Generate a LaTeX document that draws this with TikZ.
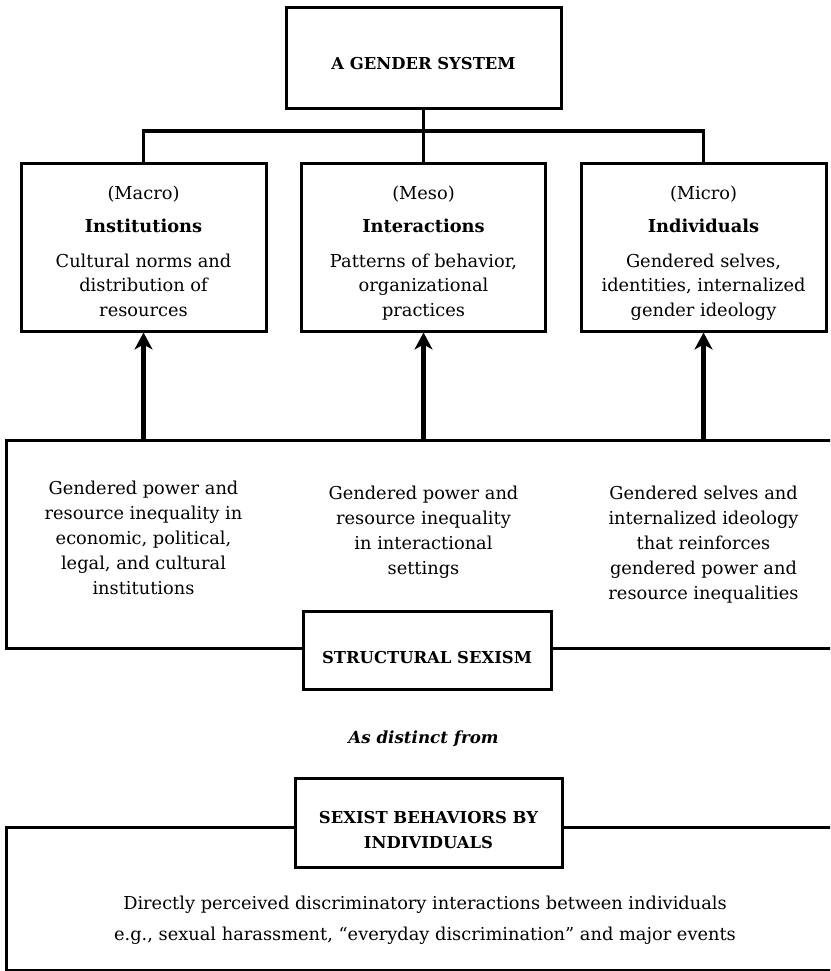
\documentclass[tikz,border=0pt]{standalone}
\usepackage{fontspec}
\setmainfont{DejaVu Serif}
\usetikzlibrary{arrows.meta}
\begin{document}
\begin{tikzpicture}[x=1pt,y=-1pt,
  every node/.style={font=\fontsize{17.8}{24.5}\selectfont},
  box/.style={draw, line width=3pt, fill=white, inner sep=0pt},
  conn/.style={line width=3pt},
  uparrow/.style={line width=5.5pt, -{Stealth[length=17pt,width=18pt,inset=5pt]}},
  txt/.style={align=center, inner sep=0pt},
  coltxt/.style={align=center, inner sep=0pt, anchor=north, font=\fontsize{17.8}{25}\selectfont},
  hd/.style={align=center, inner sep=0pt, font=\fontsize{16.4}{25}\selectfont\bfseries}]
\useasboundingbox (0,0) rectangle (830,971);
\clip (0,0) rectangle (830,971);

% top
\node[box, minimum width=275pt, minimum height=101pt] (gs) at (423.5,58) {};
\node[hd, anchor=base] (gsT) at (423.5,69.5) {A GENDER SYSTEM};

% level boxes
\node[box, minimum width=245pt, minimum height=168pt] (macro) at (143.5,247) {};
\node[box, minimum width=244pt, minimum height=168pt] (meso) at (423.5,247) {};
\node[box, minimum width=245pt, minimum height=168pt] (micro) at (703.5,247) {};

\node[txt, anchor=north] (macroT) at (143.5,185.5) {(Macro)\\[8.5pt]\textbf{Institutions}\\[10.5pt]Cultural norms and\\distribution of\\resources};
\node[txt, anchor=north] (mesoT) at (423.5,185.5) {(Meso)\\[8.5pt]\textbf{Interactions}\\[10.5pt]Patterns of behavior,\\organizational\\practices};
\node[txt, anchor=north] (microT) at (703.5,185.5) {(Micro)\\[8.5pt]\textbf{Individuals}\\[10.5pt]Gendered selves,\\identities, internalized\\gender ideology};

% connectors from top
\coordinate (bar) at (423.5,131);
\draw[conn] (gs.south) -- (bar);
\draw[conn] (macro.north) |- (bar) -| (micro.north);
\draw[conn] (bar) -- (meso.north);

% structural box
\node[box, minimum width=854pt, minimum height=208pt] (struct) at (433,544) {};
\node[coltxt] (c1) at (143.5,481) {Gendered power and\\resource inequality in\\economic, political,\\legal, and cultural\\institutions};
\node[coltxt] (c2) at (423.5,486) {Gendered power and\\resource inequality\\in interactional\\settings};
\node[coltxt] (c3) at (703.5,486) {Gendered selves and\\internalized ideology\\that reinforces\\gendered power and\\resource inequalities};

\node[box, minimum width=248pt, minimum height=78pt] (ss) at (427,650) {};
\node[hd, anchor=base] (ssT) at (427,663.5) {STRUCTURAL SEXISM};

% arrows
\draw[uparrow] (struct.north -| macro.south) -- (macro.south);
\draw[uparrow] (struct.north -| meso.south) -- (meso.south);
\draw[uparrow] (struct.north -| micro.south) -- (micro.south);

% as distinct from
\node[txt, anchor=base, font=\fontsize{16.7}{24.5}\selectfont\bfseries\itshape] (asd) at (423.5,743) {As distinct from};

% sexist behaviors
\node[box, minimum width=854pt, minimum height=143pt] (indiv) at (433,898.5) {};
\node[box, minimum width=267pt, minimum height=89pt] (sb) at (428.5,822.5) {};
\node[hd, anchor=north] (sbT) at (428.5,811) {SEXIST BEHAVIORS BY\\INDIVIDUALS};
\node[txt, anchor=north, font=\fontsize{17.8}{31}\selectfont] (bt) at (425,896) {Directly perceived discriminatory interactions between individuals\\e.g., sexual harassment, “everyday discrimination” and major events};
\end{tikzpicture}
\end{document}
